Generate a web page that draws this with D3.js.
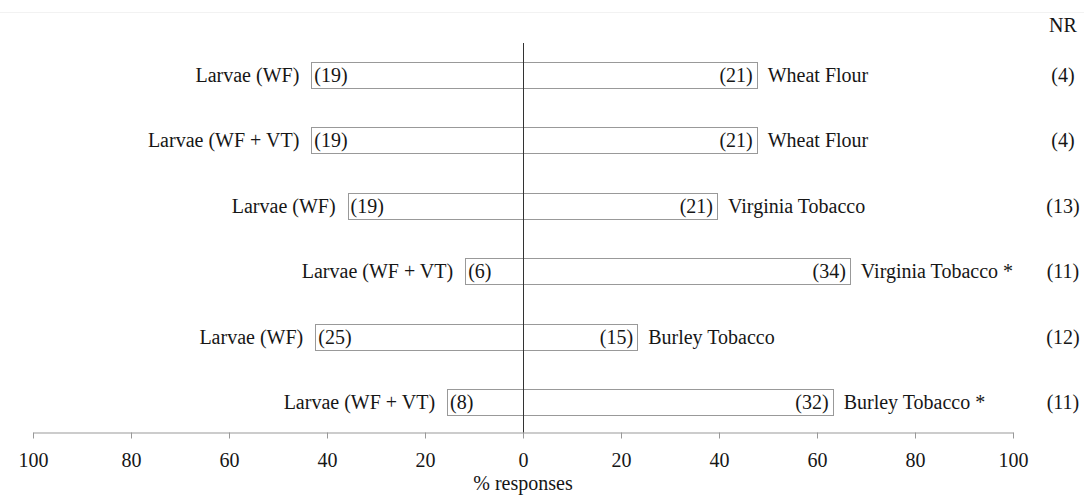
<!DOCTYPE html>
<html>
<head>
<meta charset="utf-8">
<script src="https://cdn.jsdelivr.net/npm/d3@7"></script>
<style>
  html, body { margin: 0; padding: 0; background: #fff; }
  svg { display: block; }
</style>
</head>
<body>
<svg id="chart" width="1084" height="495"></svg>
<script>
const leftLabels = ["Larvae (WF)", "Larvae (WF + VT)", "Larvae (WF)", "Larvae (WF + VT)", "Larvae (WF)", "Larvae (WF + VT)"];
const rightLabels = ["Wheat Flour", "Wheat Flour", "Virginia Tobacco", "Virginia Tobacco *", "Burley Tobacco", "Burley Tobacco *"];
const leftCounts = [19, 19, 19, 6, 25, 8];
const rightCounts = [21, 21, 21, 34, 15, 32];
const nrCounts = [4, 4, 13, 11, 12, 11];
const leftPct = [43.2, 43.2, 35.8, 11.8, 42.4, 15.5];
const rightPct = [47.7, 47.7, 39.6, 66.7, 23.3, 63.2];
const tickValues = [-100, -80, -60, -40, -20, 0, 20, 40, 60, 80, 100];

const FONT = '"Liberation Serif"';
const fs = 20;
const ink = "#161616";
const svg = d3.select("#chart");

function txt(sel) {
  return sel.style("font-family", FONT).attr("font-size", fs).attr("fill", ink);
}

svg.append("line").attr("x1", 0).attr("x2", 1084).attr("y1", 12.5).attr("y2", 12.5)
  .attr("stroke", "#f2f2f2").attr("stroke-width", 1);

const x = d3.scaleLinear().domain([-100, 100]).range([33, 1013]);
const idx = d3.range(leftLabels.length);
const y = d3.scalePoint().domain(idx).range([75, 402]);
const barH = 26;
const axisY = 432;
const dy = 7;

const g = svg.append("g");
g.selectAll("rect.left").data(idx).join("rect")
  .attr("x", i => Math.round(x(-leftPct[i])) + 0.5)
  .attr("y", i => Math.round(y(i) - barH / 2) + 0.5)
  .attr("width", i => Math.round(x(0)) - Math.round(x(-leftPct[i])))
  .attr("height", barH)
  .attr("fill", "#fff").attr("stroke", "#999").attr("stroke-width", 1);
g.selectAll("rect.right").data(idx).join("rect")
  .attr("x", Math.round(x(0)) + 0.5)
  .attr("y", i => Math.round(y(i) - barH / 2) + 0.5)
  .attr("width", i => Math.round(x(rightPct[i])) - Math.round(x(0)))
  .attr("height", barH)
  .attr("fill", "#fff").attr("stroke", "#999").attr("stroke-width", 1);

txt(g.selectAll("text.lc").data(idx).join("text"))
  .attr("x", i => x(-leftPct[i]) + 3)
  .attr("y", i => y(i) + dy)
  .text(i => "(" + leftCounts[i] + ")");
txt(g.selectAll("text.rc").data(idx).join("text"))
  .attr("x", i => x(rightPct[i]) - 4)
  .attr("y", i => y(i) + dy)
  .attr("text-anchor", "end")
  .text(i => "(" + rightCounts[i] + ")");

txt(g.selectAll("text.ll").data(idx).join("text"))
  .attr("x", i => x(-leftPct[i]) - 12)
  .attr("y", i => y(i) + dy)
  .attr("text-anchor", "end")
  .text(i => leftLabels[i]);
txt(g.selectAll("text.rl").data(idx).join("text"))
  .attr("x", i => x(rightPct[i]) + 11)
  .attr("y", i => y(i) + dy)
  .text(i => rightLabels[i]);

txt(svg.append("text")).attr("x", 1063).attr("y", 32).attr("text-anchor", "middle").text("NR");
txt(g.selectAll("text.nr").data(idx).join("text"))
  .attr("x", 1063)
  .attr("y", i => y(i) + dy)
  .attr("text-anchor", "middle")
  .text(i => "(" + nrCounts[i] + ")");

svg.append("line")
  .attr("x1", Math.round(x(0)) + 0.5).attr("x2", Math.round(x(0)) + 0.5)
  .attr("y1", 43).attr("y2", axisY + 6)
  .attr("stroke", "#333").attr("stroke-width", 1);

const axis = d3.axisBottom(x).tickValues(tickValues)
  .tickFormat(d => Math.abs(d)).tickSize(6).tickPadding(14).tickSizeOuter(0);
const ax = svg.append("g").attr("transform", `translate(0,${axisY + 0.5})`).call(axis);
ax.select(".domain").attr("stroke", "#999");
ax.selectAll(".tick line").attr("stroke", "#999");
txt(ax.selectAll(".tick text"));

txt(svg.append("text")).attr("x", x(0)).attr("y", 490).attr("text-anchor", "middle")
  .text("% responses");
</script>
</body>
</html>
